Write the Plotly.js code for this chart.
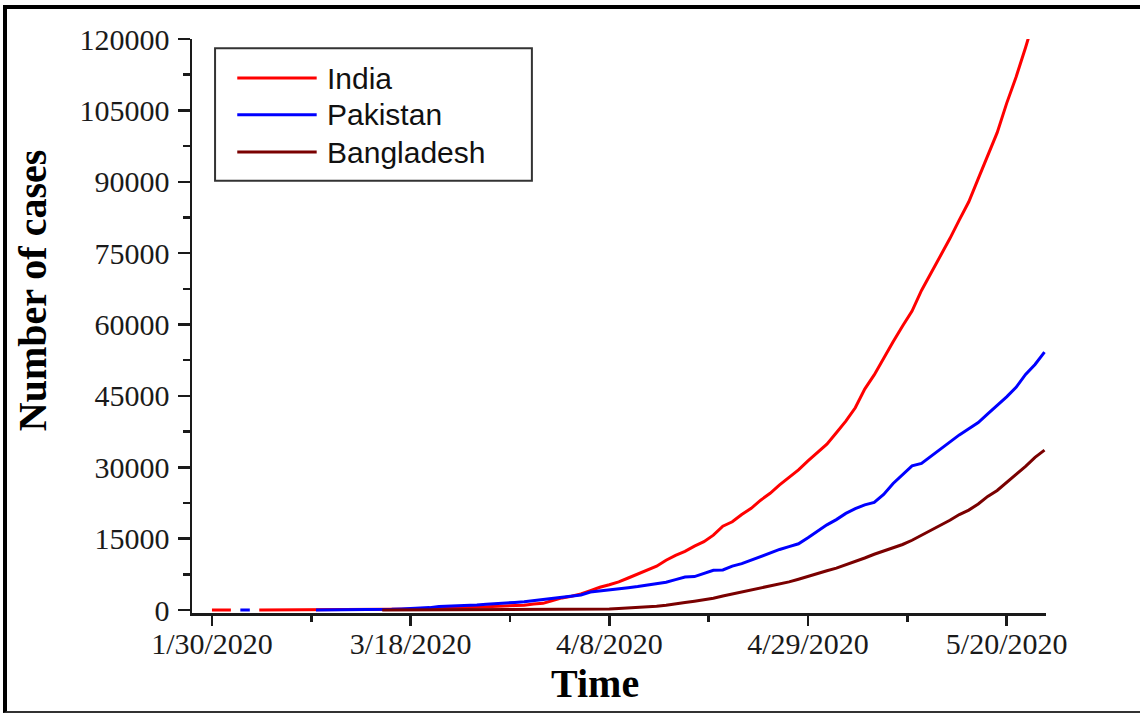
<!DOCTYPE html>
<html>
<head>
<meta charset="utf-8">
<script src="https://cdn.plot.ly/plotly-3.0.1.min.js"></script>
<style>
  html, body { margin: 0; padding: 0; background: #fff; }
  #frame { position: absolute; left: 3px; top: 5px; width: 1137px; height: 708px;
           border-left: 4px solid #000; border-top: 4px solid #000; border-bottom: 2px solid #333;
           box-sizing: border-box; }
  #chart { width: 1133px; height: 702px; }
</style>
</head>
<body>
<div id="frame"><div id="chart"></div></div>
<script>
// Category labels (reporting dates) – sparse at the start, daily from 3/2/2020
const dates = [
  '1/30/2020','1/31/2020','2/2/2020','2/26/2020','2/29/2020',
  '3/2/2020','3/3/2020','3/4/2020','3/5/2020','3/6/2020','3/7/2020','3/8/2020','3/9/2020','3/10/2020',
  '3/11/2020','3/12/2020','3/13/2020','3/14/2020','3/15/2020','3/16/2020','3/17/2020','3/18/2020',
  '3/19/2020','3/20/2020','3/21/2020','3/22/2020','3/23/2020','3/24/2020','3/25/2020','3/26/2020',
  '3/27/2020','3/28/2020','3/29/2020','3/30/2020','3/31/2020',
  '4/1/2020','4/2/2020','4/3/2020','4/4/2020','4/5/2020','4/6/2020','4/7/2020','4/8/2020','4/9/2020',
  '4/10/2020','4/11/2020','4/12/2020','4/13/2020','4/14/2020','4/15/2020','4/16/2020','4/17/2020',
  '4/18/2020','4/19/2020','4/20/2020','4/21/2020','4/22/2020','4/23/2020','4/24/2020','4/25/2020',
  '4/26/2020','4/27/2020','4/28/2020','4/29/2020','4/30/2020',
  '5/1/2020','5/2/2020','5/3/2020','5/4/2020','5/5/2020','5/6/2020','5/7/2020','5/8/2020','5/9/2020',
  '5/10/2020','5/11/2020','5/12/2020','5/13/2020','5/14/2020','5/15/2020','5/16/2020','5/17/2020',
  '5/18/2020','5/19/2020','5/20/2020','5/21/2020','5/22/2020','5/23/2020','5/24/2020'
];

const india = [
  1, 1, 2, null, null,
  3, 5, 6, 28, 30, 31, 34, 39, 43, 56, 62, 73, 82, 102, 113, 119, 142,
  156, 194, 244, 330, 396, 499, 536, 657, 727, 887, 987, 1024, 1251,
  1397, 1998, 2543, 2902, 3374, 4067, 4778, 5311, 5916, 6725, 7598, 8446, 9205, 10453, 11487,
  12322, 13430, 14352, 15722, 17615, 18539, 20080, 21370, 23077, 24530, 26283, 27890, 29451,
  31324, 33062, 34863, 37257, 39699, 42505, 46437, 49400, 52987, 56351, 59695, 62808, 67161,
  70768, 74292, 78055, 81997, 85784, 90648, 95698, 100328, 106475, 112028, 118226, 124794, 131423
];

const pakistan = [
  null, null, null, 2, 2,
  null, null, null, null, null, null, 6, 6, 16, 19, 20, 28, 31, 53, 136, 236, 299,
  454, 501, 730, 776, 875, 972, 1063, 1201, 1373, 1495, 1597, 1717, 1938,
  2118, 2421, 2686, 2818, 3157, 3766, 4035, 4263, 4489, 4695, 4934, 5230, 5496, 5837, 6383,
  6919, 7025, 7638, 8348, 8418, 9216, 9749, 10513, 11155, 11940, 12723, 13328, 13915,
  15200, 16500, 17900, 19000, 20300, 21300, 22100, 22600, 24300, 26600, 28400, 30300, 30800,
  32300, 33800, 35300, 36800, 38100, 39400, 41200, 42900, 44800, 46800, 49500, 51600, 54200
];

const bangladesh = [
  null, null, null, null, null,
  null, null, null, null, null, null, null, null, null, null, null, null, null, 5, 8, 10, 14,
  17, 20, 24, 27, 33, 39, 39, 44, 48, 48, 48, 49, 51,
  54, 56, 61, 70, 88, 123, 164, 218, 330, 424, 482, 621, 803, 1012, 1231,
  1572, 1838, 2144, 2456, 2948, 3382, 3772, 4186, 4689, 4998, 5416, 5913, 6462,
  7103, 7667, 8238, 8790, 9455, 10143, 10929, 11719, 12425, 13134, 13770, 14657, 15691,
  16660, 17822, 18863, 20065, 20995, 22268, 23870, 25121, 26738, 28511, 30205, 32078, 33610
];

const tickDates = ['1/30/2020', '3/18/2020', '4/8/2020', '4/29/2020', '5/20/2020'];
const yTicks = [0, 15000, 30000, 45000, 60000, 75000, 90000, 105000, 120000];

const seriesNames = ['India', 'Pakistan', 'Bangladesh'];
const seriesColors = ['#ff0000', '#0000ff', '#7a0000'];
const seriesValues = [india, pakistan, bangladesh];

const xTitle = 'Time';
const yTitle = 'Number of cases';

// position of each reported date along the axis = its order in the list
const xIdx = dates.map((d, i) => i);
const majorX = tickDates.map(d => dates.indexOf(d));
const minorX = majorX.slice(0, -1).map((v, i) => (v + majorX[i + 1]) / 2);

const traces = seriesNames.map((name, k) => ({
  type: 'scatter',
  mode: 'lines',
  name: name,
  x: xIdx,
  y: seriesValues[k],
  text: dates,
  hovertemplate: '%{text}: %{y}<extra>' + name + '</extra>',
  connectgaps: false,
  showlegend: false,
  line: { color: seriesColors[k], width: 3 }
}));

const axisColor = '#1a1a1a';
const serif = 'Liberation Serif, Times New Roman, serif';
const tickFont = { family: serif, size: 30, color: '#1a1a1a' };
const titleFont = { family: serif, size: 40, weight: 'bold', color: '#000' };

// Legend box (paper coordinates) – drawn as a framed key in the upper-left corner
const legendBox = { x0: 0.027, x1: 0.398, y0: 0.753, y1: 0.984 };
const legendLineX = [0.053, 0.146];
const legendTextX = 0.156;
const legendRowY = [0.932, 0.868, 0.803];

const shapes = [
  { type: 'rect', xref: 'paper', yref: 'paper', x0: legendBox.x0, x1: legendBox.x1, y0: legendBox.y0, y1: legendBox.y1,
    line: { color: '#333333', width: 2 }, fillcolor: '#ffffff', layer: 'above' }
];
const annotations = [
  { text: xTitle, xref: 'paper', yref: 'paper', x: 0.472, y: -0.123, xanchor: 'center', yanchor: 'middle',
    showarrow: false, font: titleFont },
  { text: yTitle, xref: 'paper', yref: 'paper', x: -0.186, y: 0.561, xanchor: 'center', yanchor: 'middle',
    textangle: -90, showarrow: false, font: titleFont }
];
seriesNames.forEach((name, k) => {
  shapes.push({ type: 'line', xref: 'paper', yref: 'paper', x0: legendLineX[0], x1: legendLineX[1],
    y0: legendRowY[k], y1: legendRowY[k], line: { color: seriesColors[k], width: 3 }, layer: 'above' });
  annotations.push({ text: name, xref: 'paper', yref: 'paper', x: legendTextX, y: legendRowY[k],
    xanchor: 'left', yanchor: 'middle', showarrow: false,
    font: { family: 'Liberation Sans, Arial, sans-serif', size: 30, color: '#111111' } });
});

const layout = {
  width: 1133,
  height: 702,
  margin: { l: 185, r: 94, t: 30, b: 98 },
  paper_bgcolor: '#ffffff',
  plot_bgcolor: '#ffffff',
  showlegend: false,
  xaxis: {
    range: [-2.11, 88.16],
    tickmode: 'array',
    tickvals: majorX,
    ticktext: tickDates,
    ticks: 'outside', ticklen: 10, tickwidth: 2.5, tickcolor: axisColor,
    showline: true, linewidth: 2.5, linecolor: axisColor,
    showgrid: false, zeroline: false,
    tickfont: tickFont,
    ticklabelstandoff: -8,
    minor: { tickmode: 'array', tickvals: minorX, ticks: 'outside', ticklen: 6, tickwidth: 2.5, tickcolor: axisColor, showgrid: false }
  },
  yaxis: {
    range: [-630, 120000],
    tickmode: 'array',
    tickvals: yTicks,
    tickformat: 'd',
    ticks: 'outside', ticklen: 12, tickwidth: 2.5, tickcolor: axisColor,
    showline: true, linewidth: 2.5, linecolor: axisColor,
    showgrid: false, zeroline: false,
    tickfont: tickFont,
    ticklabelstandoff: 2,
    minor: { tickmode: 'linear', tick0: 0, dtick: 7500, ticks: 'outside', ticklen: 7, tickwidth: 2.5, tickcolor: axisColor, showgrid: false }
  },
  shapes: shapes,
  annotations: annotations
};

Plotly.newPlot('chart', traces, layout, { displayModeBar: false, staticPlot: true });
</script>
</body>
</html>
